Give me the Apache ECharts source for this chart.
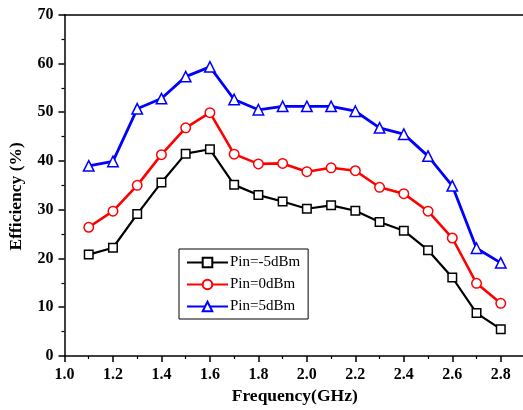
<!DOCTYPE html>
<html>
<head>
<meta charset="utf-8">
<script src="https://cdn.jsdelivr.net/npm/echarts@6/dist/echarts.min.js"></script>
<style>
  html, body { margin: 0; padding: 0; background: #fff; overflow: hidden; }
  #chart { width: 525px; height: 410px; }
</style>
</head>
<body>
<div id="chart"></div>
<script>
// Frequency sweep (GHz)
const frequency = [1.1, 1.2, 1.3, 1.4, 1.5, 1.6, 1.7, 1.8, 1.9, 2.0, 2.1, 2.2, 2.3, 2.4, 2.5, 2.6, 2.7, 2.8];
// Drain efficiency (%) for each input power level
const effPinM5 = [20.8, 22.2, 29.1, 35.6, 41.5, 42.4, 35.1, 33.0, 31.7, 30.2, 30.9, 29.8, 27.5, 25.7, 21.7, 16.1, 8.8, 5.5];
const effPin0  = [26.4, 29.7, 35.0, 41.3, 46.8, 49.9, 41.4, 39.4, 39.5, 37.8, 38.6, 38.0, 34.6, 33.3, 29.7, 24.2, 14.9, 10.8];
const effPin5  = [39.0, 39.9, 50.7, 52.8, 57.3, 59.3, 52.6, 50.5, 51.2, 51.2, 51.2, 50.2, 46.8, 45.5, 41.0, 34.9, 22.1, 19.1];
const seriesNames = ['Pin=-5dBm', 'Pin=0dBm', 'Pin=5dBm'];

const FONT = '"Liberation Serif", "Times New Roman", serif';

function pairs(ys) {
  return frequency.map((f, i) => [f, ys[i]]);
}

function lineSeries(name, ys, color, symbol, size, width) {
  return {
    name: name,
    type: 'line',
    data: pairs(ys),
    symbol: symbol,
    symbolSize: size,
    showAllSymbol: true,
    lineStyle: { color: color, width: width },
    itemStyle: { color: '#fff', borderColor: color, borderWidth: 1.5 },
    emphasis: { disabled: true },
    z: 3
  };
}

const axisFont = { fontFamily: FONT, fontSize: 16, fontWeight: 'bold', color: '#000' };
const titleFont = { fontFamily: FONT, fontSize: 17.5, fontWeight: 'bold', color: '#000' };

const chart = echarts.init(document.getElementById('chart'), null, { renderer: 'canvas' });

chart.setOption({
  backgroundColor: '#fff',
  animation: false,
  grid: {
    left: 64.5, top: 14.7, right: 0, bottom: 54,
    show: false,
    containLabel: false,
    outerBoundsMode: 'none'
  },
  legend: {
    orient: 'vertical',
    left: 179, top: 249,
    width: 130,
    padding: [6, 8, 5, 7],
    itemGap: 7,
    itemWidth: 41,
    itemHeight: 12,
    borderColor: '#000',
    borderWidth: 1,
    backgroundColor: '#fff',
    textStyle: { fontFamily: FONT, fontSize: 15, color: '#000', padding: [0, 0, 0, -3] },
    data: seriesNames
  },
  xAxis: [
    {
      type: 'value',
      min: 1.0, max: 2.9, interval: 0.2,
      name: 'Frequency(GHz)',
      nameLocation: 'middle',
      nameGap: 25,
      nameTextStyle: titleFont,
      axisLine: { lineStyle: { color: '#000', width: 1.5 } },
      axisTick: { show: true, inside: false, length: 6, lineStyle: { color: '#000', width: 1.5 } },
      minorTick: { show: true, splitNumber: 2, length: 3, lineStyle: { color: '#000', width: 1.2 } },
      axisLabel: Object.assign({ margin: 11, formatter: v => (v > 2.85 ? '' : v.toFixed(1)) }, axisFont),
      splitLine: { show: false }
    },
    {
      // frame line along the top of the plot
      type: 'value',
      position: 'top',
      min: 1.0, max: 2.9, interval: 0.2,
      axisLine: { show: true, onZero: false, lineStyle: { color: '#000', width: 1.5 } },
      axisTick: { show: false },
      axisLabel: { show: false },
      splitLine: { show: false }
    }
  ],
  yAxis: {
    type: 'value',
    min: 0, max: 70, interval: 10,
    name: 'Efficiency (%)',
    nameLocation: 'middle',
    nameGap: 39,
    nameRotate: 90,
    nameTextStyle: Object.assign({ padding: [0, 22, 0, 0] }, titleFont),
    axisLine: { onZero: false, lineStyle: { color: '#000', width: 1.5 } },
    axisTick: { show: true, inside: false, length: 6, lineStyle: { color: '#000', width: 1.5 } },
    minorTick: { show: true, splitNumber: 2, length: 3, lineStyle: { color: '#000', width: 1.2 } },
    axisLabel: Object.assign({ margin: 11 }, axisFont),
    splitLine: { show: false }
  },
  series: [
    lineSeries(seriesNames[0], effPinM5, '#000000', 'rect', 8.5, 2.2),
    lineSeries(seriesNames[1], effPin0, '#ff0000', 'circle', 9.5, 2.6),
    lineSeries(seriesNames[2], effPin5, '#0000ff', 'triangle', 10.5, 2.8)
  ]
});
</script>
</body>
</html>
